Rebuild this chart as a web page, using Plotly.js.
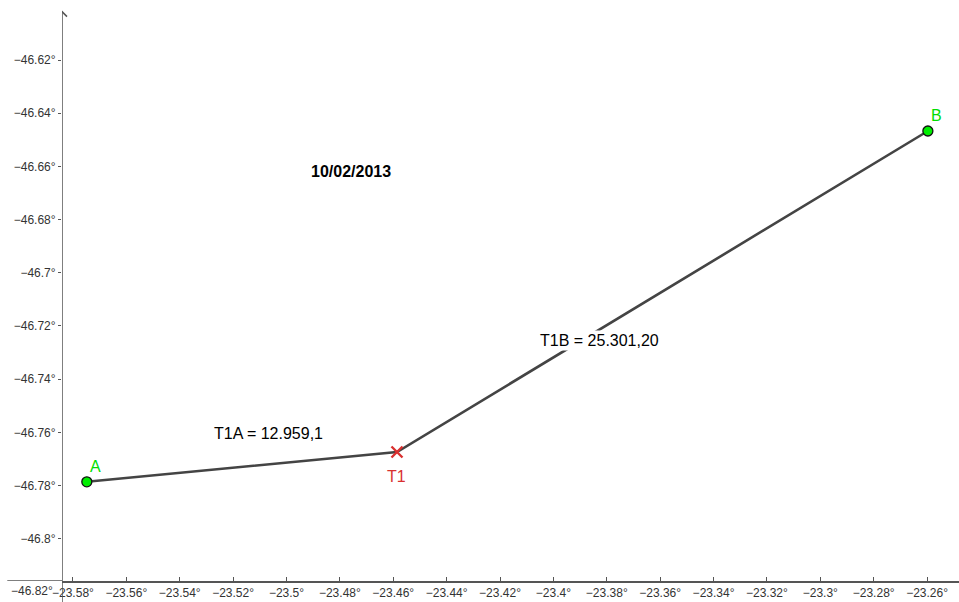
<!DOCTYPE html>
<html><head><meta charset="utf-8">
<script src="https://cdn.plot.ly/plotly-3.0.1.min.js"></script>
<style>html,body{margin:0;padding:0;background:#fff}#chart{width:959px;height:602px}</style>
</head><body><div id="chart"></div>
<script>
// Points (x = latitude-like axis, y = longitude-like axis)
const pointNames = ['A', 'T1', 'B'];
const pointX = [-23.5748, -23.4586, -23.2597];
const pointY = [-46.7786, -46.7674, -46.6467];

// Segment labels
const segLabels = ['T1A = 12.959,1', 'T1B = 25.301,20'];
const segLabelX = [-23.5066, -23.3829];
const segLabelY = [-46.7606, -46.7256];

const dateText = '10/02/2013';
const dateX = -23.4758, dateY = -46.6621;

const xTickVals = [-23.58,-23.56,-23.54,-23.52,-23.5,-23.48,-23.46,-23.44,-23.42,-23.4,-23.38,-23.36,-23.34,-23.32,-23.3,-23.28,-23.26];
const xTickText = ['−23.58°','−23.56°','−23.54°','−23.52°','−23.5°','−23.48°','−23.46°','−23.44°','−23.42°','−23.4°','−23.38°','−23.36°','−23.34°','−23.32°','−23.3°','−23.28°','−23.26°'];
const yTickVals = [-46.62,-46.64,-46.66,-46.68,-46.7,-46.72,-46.74,-46.76,-46.78,-46.8];
const yTickText = ['−46.62°','−46.64°','−46.66°','−46.68°','−46.7°','−46.72°','−46.74°','−46.76°','−46.78°','−46.8°'];

const axisCrossX = -23.5841;
const axisCrossY = -46.8159;

const font = 'Liberation Sans, Arial, sans-serif';

const traces = [
  {x: pointX, y: pointY, mode: 'lines', type: 'scatter',
   line: {color: '#444444', width: 2.6}, hoverinfo: 'skip', showlegend: false},
  {x: [pointX[0], pointX[2]], y: [pointY[0], pointY[2]], mode: 'markers', type: 'scatter',
   marker: {color: '#00ee00', size: 10, line: {color: '#111', width: 1.3}}, showlegend: false},
  {x: [pointX[1]], y: [pointY[1]], mode: 'markers', type: 'scatter',
   marker: {symbol: 'x-thin', color: '#d9302f', size: 11, line: {color: '#d9302f', width: 2.4}}, showlegend: false}
];

const annotations = [
  {x: pointX[0], y: pointY[0], text: pointNames[0], showarrow: false, xshift: 9, yshift: 15,
   font: {family: font, size: 16, color: '#00dd00'}},
  {x: pointX[1], y: pointY[1], text: pointNames[1], showarrow: false, xshift: 0, yshift: -24,
   font: {family: font, size: 16, color: '#d9302f'}},
  {x: pointX[2], y: pointY[2], text: pointNames[2], showarrow: false, xshift: 9, yshift: 16,
   font: {family: font, size: 16, color: '#00dd00'}},
  {x: segLabelX[0], y: segLabelY[0], text: segLabels[0], showarrow: false,
   font: {family: font, size: 16, color: '#000'}},
  {x: segLabelX[1], y: segLabelY[1], text: segLabels[1], showarrow: false, bgcolor: '#fff',
   font: {family: font, size: 16, color: '#000'}},
  {x: dateX, y: dateY, text: '<b>' + dateText + '</b>', showarrow: false,
   font: {family: font, size: 16, color: '#000'}},
  {xref: 'paper', yref: 'paper', x: -0.008, y: 0, xanchor: 'right', yanchor: 'top', yshift: -1,
   text: '−46.82°', showarrow: false, font: {family: font, size: 12, color: '#333'}}
];

const shapes = [
  // x-axis extension to the left
  {type: 'line', xref: 'paper', yref: 'y', x0: -0.061, x1: 0, y0: axisCrossY, y1: axisCrossY,
   line: {color: '#555', width: 1.5}},
  // y-axis extension below
  {type: 'line', xref: 'x', yref: 'paper', x0: axisCrossX, x1: axisCrossX, y0: -0.036, y1: 0,
   line: {color: '#555', width: 1.5}},
  // y-axis with arrow head
  {type: 'line', xref: 'x', yref: 'paper', x0: axisCrossX, x1: axisCrossX, y0: 0, y1: 0.98,
   line: {color: '#555', width: 1.5}},
  {type: 'path', xref: 'x', yref: 'paper', xsizemode: 'pixel', ysizemode: 'pixel',
   xanchor: axisCrossX, yanchor: 0.98, path: 'M -5 -5 L 0 0 L 5 -5',
   line: {color: '#555', width: 1.5}}
];

const layout = {
  width: 959, height: 602,
  margin: {l: 62, r: 0, t: 0, b: 21},
  paper_bgcolor: '#fff', plot_bgcolor: '#fff',
  showlegend: false,
  font: {family: font, size: 12, color: '#333'},
  xaxis: {range: [axisCrossX, -23.24804], showgrid: false, zeroline: false,
          showline: true, linecolor: '#555', linewidth: 1.5,
          tickmode: 'array', tickvals: xTickVals, ticktext: xTickText,
          ticks: 'inside', ticklen: 4, tickcolor: '#555', tickwidth: 1,
          tickfont: {family: font, size: 12, color: '#333'}},
  yaxis: {range: [axisCrossY, -46.59744], showgrid: false, zeroline: false,
          showline: false,
          tickmode: 'array', tickvals: yTickVals, ticktext: yTickText,
          ticks: 'outside', ticklen: 3, tickcolor: '#555', tickwidth: 1,
          tickfont: {family: font, size: 12, color: '#333'}},
  annotations: annotations,
  shapes: shapes
};

Plotly.newPlot('chart', traces, layout, {displayModeBar: false, staticPlot: true});
</script></body></html>
